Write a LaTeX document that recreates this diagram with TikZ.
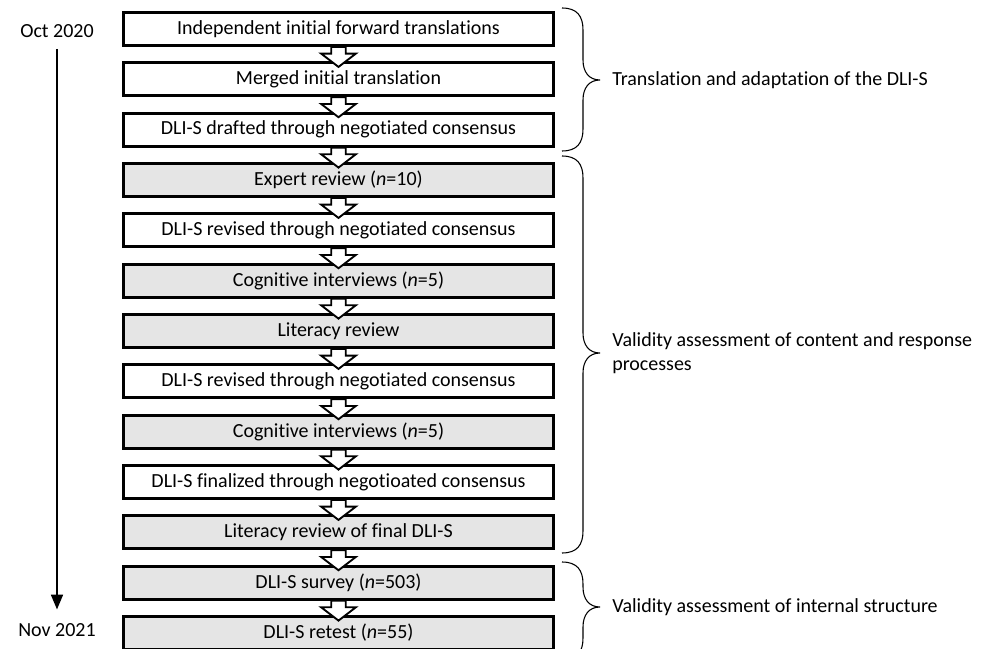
\documentclass[tikz,border=0pt]{standalone}
\usepackage{fontspec}
\setmainfont{Carlito}[Ligatures=NoCommon]
\usetikzlibrary{positioning, shapes.arrows, arrows.meta}
\tikzstyle{stage} = [draw=black, line width=2.2pt, outer sep=0pt, inner sep=0pt, minimum width=322.5pt, minimum height=24.75pt, fill=white, font=\fontsize{15}{18}\selectfont]
\tikzstyle{stagegray} = [stage, fill=black!10]
\tikzstyle{flow} = [single arrow, draw=black, fill=white, line width=1.4pt, rotate=-90, inner xsep=0pt, inner ysep=4.7pt, minimum height=15pt, single arrow head extend=7.6pt, single arrow tip angle=105]
\tikzstyle{bracket} = [line width=0.8pt]
\tikzstyle{lbl} = [anchor=west, font=\fontsize{15}{18.5}\selectfont, align=left, inner sep=0pt]

\begin{document}
\begin{tikzpicture}[x=0.75pt, y=0.75pt, node distance=13pt]
        \useasboundingbox (0,0) rectangle (992,-649);

        % steps
        \node (fwd) at (338.5,-29) [stage] {Independent initial forward translations};
        \node (merged) [stage, below=of fwd] {Merged initial translation};
        \node (drafted) [stage, below=of merged] {DLI-S drafted through negotiated consensus};
        \node (expert) [stagegray, below=of drafted] {Expert review (\textit{n}=10)};
        \node (revised1) [stage, below=of expert] {DLI-S revised through negotiated consensus};
        \node (cog1) [stagegray, below=of revised1] {Cognitive interviews (\textit{n}=5)};
        \node (lit1) [stagegray, below=of cog1] {Literacy review};
        \node (revised2) [stage, below=of lit1] {DLI-S revised through negotiated consensus};
        \node (cog2) [stagegray, below=of revised2] {Cognitive interviews (\textit{n}=5)};
        \node (finalized) [stage, below=of cog2] {DLI-S finalized through negotioated consensus};
        \node (litfinal) [stagegray, below=of finalized] {Literacy review of final DLI-S};
        \node (survey) [stagegray, below=of litfinal] {DLI-S survey (\textit{n}=503)};
        \node (retest) [stagegray, below=of survey] {DLI-S retest (\textit{n}=55)};

        \foreach \a/\b in {fwd/merged, merged/drafted, drafted/expert, expert/revised1, revised1/cog1, cog1/lit1, lit1/revised2, revised2/cog2, cog2/finalized, finalized/litfinal, litfinal/survey, survey/retest}{
                \path (\a) -- (\b) node[midway, flow] {};
            }

        % time line
        \node (start) at (57,-31) [font=\fontsize{15}{18}\selectfont] {Oct 2020};
        \node (stop) at (57,-630) [font=\fontsize{15}{18}\selectfont] {Nov 2021};
        \draw[line width=1.1pt, -{Triangle[length=11pt, width=9pt]}, shorten <=5pt, shorten >=7pt] (start) -- (stop);

        % braces
        \foreach \top/\tip/\bot in {8/80/151, 156/353/553, 562/607/660}{
                \draw[bracket] (562,-\top) .. controls (577,-\top) and (583,-\top-8) .. (583,-\top-22)
                    -- (583,-\tip+20) .. controls (583,-\tip+8) and (589,-\tip) .. (600,-\tip)
                    .. controls (589,-\tip) and (583,-\tip-8) .. (583,-\tip-20)
                    -- (583,-\bot+22) .. controls (583,-\bot+8) and (577,-\bot) .. (562,-\bot);
            }

        \node (transl) at (612,-80) [lbl] {Translation and adaptation of the DLI-S};
        \node (content) at (612,-353) [lbl] {Validity assessment of content and response\\processes};
        \node (internal) at (612,-607) [lbl] {Validity assessment of internal structure};
    \end{tikzpicture}
\end{document}
